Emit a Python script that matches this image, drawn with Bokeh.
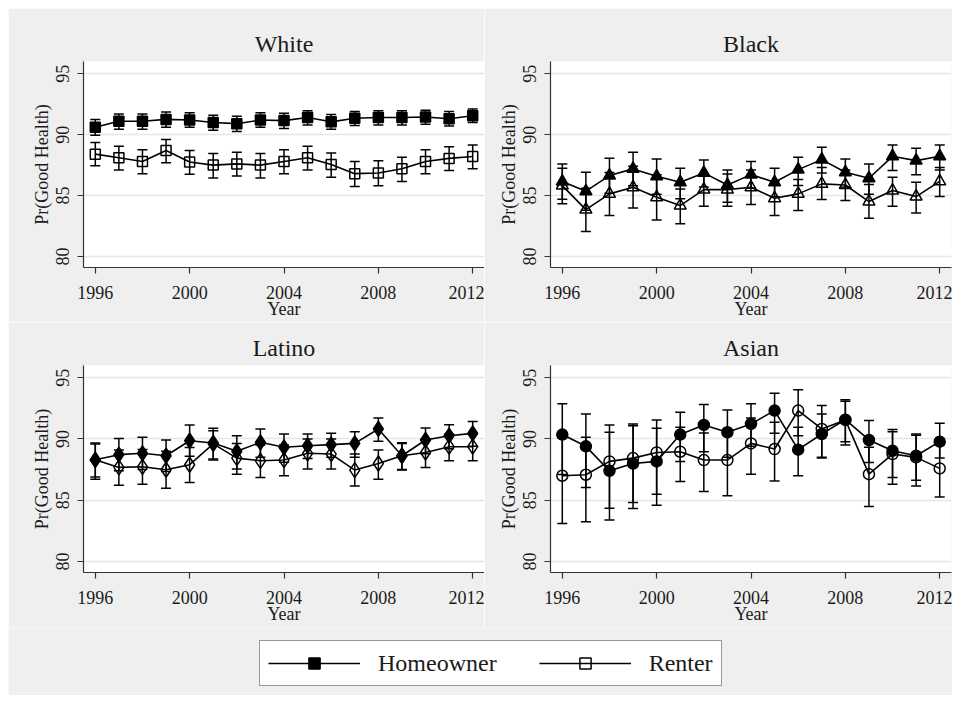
from bokeh.plotting import figure
from bokeh.models import (ColumnDataSource, Whisker, TeeHead, Range1d, FixedTicker,
                          Legend, LegendItem)
from bokeh.layouts import column, row
from bokeh.embed import file_html
from bokeh.resources import INLINE

years = list(range(1996, 2013))
x_ticks = [1996, 2000, 2004, 2008, 2012]
y_ticks = [80, 85, 90, 95]
series_names = ["Homeowner", "Renter"]

# ---- White ----
white_home = [90.6, 91.1, 91.1, 91.25, 91.2, 91.0, 90.9, 91.2, 91.15, 91.4, 91.05, 91.35, 91.4, 91.4, 91.45, 91.3, 91.55]
white_home_lo = [89.95, 90.45, 90.45, 90.6, 90.6, 90.35, 90.25, 90.6, 90.5, 90.8, 90.45, 90.75, 90.8, 90.8, 90.85, 90.7, 91.0]
white_home_hi = [91.25, 91.7, 91.7, 91.85, 91.8, 91.6, 91.5, 91.8, 91.75, 91.95, 91.65, 91.9, 91.95, 91.95, 92.0, 91.9, 92.1]
white_rent = [88.4, 88.1, 87.8, 88.7, 87.75, 87.5, 87.6, 87.5, 87.8, 88.1, 87.55, 86.8, 86.85, 87.2, 87.8, 88.05, 88.2]
white_rent_lo = [87.45, 87.1, 86.8, 87.7, 86.75, 86.45, 86.6, 86.45, 86.8, 87.1, 86.5, 85.75, 85.8, 86.15, 86.8, 87.05, 87.2]
white_rent_hi = [89.35, 89.05, 88.75, 89.6, 88.7, 88.45, 88.55, 88.45, 88.75, 89.05, 88.5, 87.8, 87.85, 88.15, 88.75, 89.0, 89.15]

# ---- Black ----
black_home = [86.15, 85.36, 86.64, 87.19, 86.58, 86.09, 86.86, 85.87, 86.72, 86.09, 87.13, 87.95, 86.91, 86.42, 88.22, 87.87, 88.22]
black_home_lo = [84.7, 83.8, 85.2, 85.8, 85.1, 84.73, 85.7, 84.45, 85.6, 84.9, 85.82, 86.85, 85.7, 85.1, 87.05, 86.7, 87.1]
black_home_hi = [87.6, 86.91, 88.06, 88.55, 88.0, 87.24, 87.92, 87.1, 87.79, 87.24, 88.14, 88.96, 88.0, 87.6, 89.15, 88.88, 89.15]
black_rent = [85.82, 83.85, 85.14, 85.68, 84.86, 84.18, 85.49, 85.49, 85.68, 84.78, 85.14, 85.96, 85.87, 84.51, 85.41, 84.92, 86.17]
black_rent_lo = [84.32, 82.05, 83.36, 83.99, 83.0, 82.68, 84.13, 84.13, 84.26, 83.36, 83.77, 84.67, 84.59, 83.14, 84.13, 83.58, 84.92]
black_rent_hi = [87.24, 85.6, 86.9, 87.4, 86.7, 85.55, 86.8, 86.78, 87.1, 86.2, 86.31, 87.3, 87.1, 85.9, 86.5, 86.09, 87.3]

# ---- Latino ----
latino_home = [88.3, 88.72, 88.83, 88.63, 89.86, 89.67, 88.99, 89.73, 89.32, 89.45, 89.54, 89.64, 90.82, 88.63, 89.92, 90.27, 90.46]
latino_home_lo = [86.9, 87.4, 87.5, 87.35, 88.6, 88.36, 87.54, 88.5, 88.1, 88.4, 88.5, 88.5, 89.81, 87.5, 88.8, 89.2, 89.4]
latino_home_hi = [89.67, 90.05, 90.14, 89.92, 91.15, 90.87, 90.27, 90.82, 90.41, 90.41, 90.46, 90.6, 91.72, 89.7, 90.9, 91.17, 91.42]
latino_rent = [88.3, 87.68, 87.73, 87.49, 87.9, 89.6, 88.44, 88.22, 88.28, 88.83, 88.77, 87.46, 88.0, 88.63, 88.9, 89.37, 89.37]
latino_rent_lo = [86.72, 86.23, 86.31, 85.98, 86.45, 88.28, 87.13, 86.86, 87.0, 87.54, 87.54, 86.17, 86.72, 87.46, 87.68, 88.22, 88.22]
latino_rent_hi = [89.6, 89.1, 89.15, 89.0, 89.3, 90.68, 89.64, 89.5, 89.5, 90.0, 90.0, 88.77, 89.1, 89.64, 90.0, 90.4, 90.4]

# ---- Asian ----
asian_home = [90.36, 89.4, 87.4, 88.0, 88.17, 90.36, 91.15, 90.55, 91.23, 92.32, 89.13, 90.41, 91.58, 89.92, 89.04, 88.63, 89.78]
asian_home_lo = [87.1, 86.04, 83.39, 84.32, 84.59, 88.17, 88.96, 88.5, 89.4, 90.46, 87.0, 88.45, 89.78, 88.09, 86.86, 86.64, 88.44]
asian_home_hi = [92.87, 92.05, 90.55, 91.09, 90.87, 92.19, 92.81, 92.37, 92.87, 93.74, 90.96, 92.05, 93.09, 91.5, 90.77, 90.41, 91.28]
asian_rent = [87.0, 87.08, 88.17, 88.44, 88.9, 88.96, 88.28, 88.28, 89.64, 89.18, 92.32, 90.82, 91.56, 87.13, 88.77, 88.5, 87.6]
asian_rent_lo = [83.1, 83.25, 84.35, 84.81, 85.49, 86.53, 85.71, 85.36, 87.13, 86.58, 90.27, 88.5, 89.51, 84.48, 86.31, 86.17, 85.27]
asian_rent_hi = [90.1, 90.14, 91.15, 91.23, 91.56, 90.96, 90.49, 90.8, 91.72, 91.37, 94.02, 92.73, 93.2, 89.32, 90.6, 90.3, 89.5]

FONT = "Liberation Serif"
BG = "#efefef"
INK = "#1a1a1a"


def make_panel(title, home, home_lo, home_hi, rent, rent_lo, rent_hi, marker, msize,
               width, height, bl, br, bt, bb):
    p = figure(width=width, height=height, output_backend="svg", toolbar_location=None,
               x_range=Range1d(1995.5, 2012.5), y_range=Range1d(79.1, 96.0),
               min_border_left=bl, min_border_right=br, min_border_top=bt,
               min_border_bottom=bb, title=title)
    p.background_fill_color = "white"
    p.border_fill_color = BG
    p.outline_line_color = None
    p.title.align = "center"
    p.title.text_font = FONT
    p.title.text_font_size = "24px"
    p.title.text_font_style = "normal"
    p.title.text_color = INK

    p.xaxis.ticker = FixedTicker(ticks=x_ticks)
    p.yaxis.ticker = FixedTicker(ticks=y_ticks)
    p.xaxis.axis_label = "Year"
    p.yaxis.axis_label = "Pr(Good Health)"
    for ax in (p.xaxis[0], p.yaxis[0]):
        ax.axis_label_text_font = FONT
        ax.axis_label_text_font_size = "18px"
        ax.axis_label_text_font_style = "normal"
        ax.axis_label_text_color = INK
        ax.major_label_text_font = FONT
        ax.major_label_text_font_size = "18px"
        ax.major_label_text_color = INK
        ax.axis_line_color = "#333333"
        ax.axis_line_width = 1.2
        ax.major_tick_line_color = "#333333"
        ax.major_tick_line_width = 1.2
        ax.major_tick_out = 6
        ax.major_tick_in = 0
        ax.minor_tick_line_color = None
    p.xaxis.major_label_standoff = 12
    p.xaxis.axis_label_standoff = -3
    p.yaxis.major_label_standoff = 8
    p.yaxis.axis_label_standoff = 2
    p.yaxis.major_label_orientation = "vertical"
    p.xgrid.grid_line_color = None
    p.ygrid.ticker = FixedTicker(ticks=y_ticks)
    p.ygrid.grid_line_color = "#e6e6e6"
    p.ygrid.grid_line_width = 1.5

    for vals, lo, hi, filled in ((home, home_lo, home_hi, True), (rent, rent_lo, rent_hi, False)):
        src = ColumnDataSource(dict(year=years, val=vals, lo=lo, hi=hi))
        w = Whisker(source=src, base="year", upper="hi", lower="lo",
                    line_color="black", line_width=1.5,
                    upper_head=TeeHead(size=10, line_color="black", line_width=1.5),
                    lower_head=TeeHead(size=10, line_color="black", line_width=1.5))
        p.add_layout(w)
        p.line("year", "val", source=src, line_color="black", line_width=1.6)
        p.scatter("year", "val", source=src, marker=marker, size=msize,
                  line_color="black", line_width=1.5,
                  fill_color="black" if filled else None)
    return p


p1 = make_panel("White", white_home, white_home_lo, white_home_hi,
                white_rent, white_rent_lo, white_rent_hi, "square", 10,
                476, 314, 75, 0, 53, 55)
p2 = make_panel("Black", black_home, black_home_lo, black_home_hi,
                black_rent, black_rent_lo, black_rent_hi, "triangle", 12,
                468, 314, 66, 1, 53, 55)
p3 = make_panel("Latino", latino_home, latino_home_lo, latino_home_hi,
                latino_rent, latino_rent_lo, latino_rent_hi, "diamond", 15,
                476, 306, 75, 0, 43, 56)
p4 = make_panel("Asian", asian_home, asian_home_lo, asian_home_hi,
                asian_rent, asian_rent_lo, asian_rent_hi, "circle", 11,
                468, 306, 66, 1, 43, 56)

# ---- legend strip ----
pl = figure(width=944, height=67, output_backend="svg", toolbar_location=None,
            x_range=Range1d(0, 1), y_range=Range1d(0, 1),
            x_axis_type=None, y_axis_type=None,
            min_border_left=0, min_border_right=0, min_border_top=0, min_border_bottom=0)
pl.background_fill_color = BG
pl.border_fill_color = BG
pl.outline_line_color = None
pl.grid.visible = False
offscreen = ColumnDataSource(dict(x=[-10, -9], y=[-10, -9]))
items = []
for name, filled in zip(series_names, (True, False)):
    r_line = pl.line("x", "y", source=offscreen, line_color="black", line_width=1.6)
    r_mark = pl.scatter("x", "y", source=offscreen, marker="square", size=10,
                        line_color="black", line_width=1.5,
                        fill_color="black" if filled else None)
    items.append(LegendItem(label=name, renderers=[r_line, r_mark]))
leg = Legend(items=items, orientation="horizontal", location=(251, 9),
             glyph_width=92, glyph_height=28, label_standoff=18, spacing=42,
             padding=8, margin=0,
             label_text_font=FONT, label_text_font_size="24px", label_text_color=INK,
             border_line_color="#333333", border_line_width=1.2,
             background_fill_color="white", background_fill_alpha=1.0)
pl.add_layout(leg, "center")

layout = column(row(p1, p2), row(p3, p4), pl, margin=(8, 0, 0, 8))
open("out.html", "w").write(file_html(layout, INLINE))
